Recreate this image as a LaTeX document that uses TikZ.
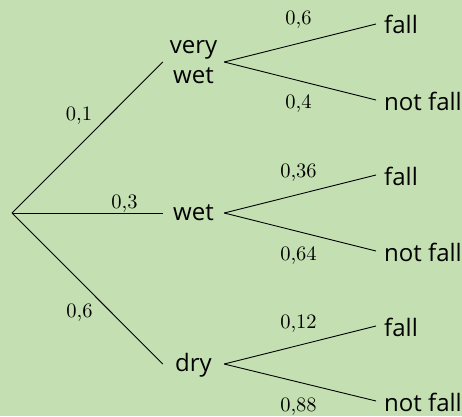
\documentclass[tikz,border=0pt]{standalone}
\usepackage{fontspec}
\setmainfont{Open Sans}
\newfontfamily\lmten{lmroman10-regular}[Extension=.otf]
\definecolor{bggreen}{RGB}{196,224,178}
\begin{document}
\begin{tikzpicture}[x=1pt,y=1pt,
  branch/.style={draw=black,line width=0.9pt},
  lvlone/.style={inner xsep=0pt,inner ysep=0pt,minimum width=61pt,font=\fontsize{24}{30}\selectfont,text height=17pt,text depth=2pt},
  lvltwo/.style={inner xsep=0pt,inner ysep=0pt,minimum width=61pt,font=\fontsize{24}{30}\selectfont,align=center},
  leaf/.style={anchor=base west,inner xsep=8pt,inner ysep=0pt,font=\fontsize{24}{30}\selectfont,text height=20pt,text depth=0pt},
  prob/.style={anchor=base,inner sep=0pt,font=\lmten\fontsize{20.5}{22}\selectfont}
]
\fill[bggreen] (0,0) rectangle (462,416);
\useasboundingbox (0,0) rectangle (462,416);

\coordinate (root) at (12,203);
\node[lvltwo] (vw) at (193.5,354) {very\\wet};
\node[lvlone] (w) at (193.5,203) {wet};
\node[lvlone] (d) at (193.5,52) {dry};

\node[leaf] (f1) at (376,382) {fall};
\node[leaf] (n1) at (376,306) {not fall};
\node[leaf] (f2) at (376,231) {fall};
\node[leaf] (n2) at (376,155) {not fall};
\node[leaf] (f3) at (376,80) {fall};
\node[leaf] (n3) at (376,5) {not fall};

\draw[branch] (root) -- (vw.west);
\draw[branch] (root) -- (w.west);
\draw[branch] (root) -- (d.west);
\draw[branch] (vw.east) -- (f1.west);
\draw[branch] (vw.east) -- (n1.west);
\draw[branch] (w.east) -- (f2.west);
\draw[branch] (w.east) -- (n2.west);
\draw[branch] (d.east) -- (f3.west);
\draw[branch] (d.east) -- (n3.west);

\node[prob] (p1) at (79,296) {0,1};
\node[prob] (p2) at (124.5,208) {0,3};
\node[prob] (p3) at (79.5,99) {0,6};
\node[prob] (p11) at (298.5,391) {0,6};
\node[prob] (p12) at (298.5,308) {0,4};
\node[prob] (p21) at (298.5,239) {0,36};
\node[prob] (p22) at (298.5,156) {0,64};
\node[prob] (p31) at (298.5,88) {0,12};
\node[prob] (p32) at (298.5,5) {0,88};
\end{tikzpicture}
\end{document}
